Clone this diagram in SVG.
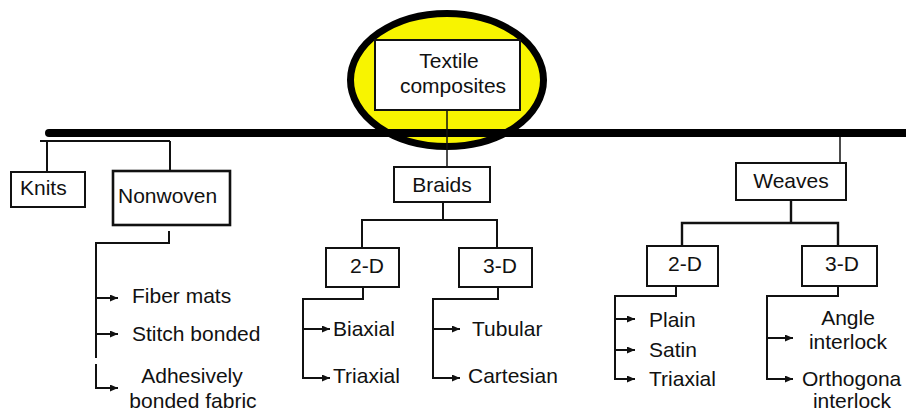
<svg xmlns="http://www.w3.org/2000/svg" width="906" height="412" viewBox="0 0 906 412">
<style>
  .box{fill:#fff;stroke:#111;stroke-width:2}
  .bold{stroke-width:2.6}
  .t{font-family:"Liberation Sans",Arial,sans-serif;font-size:21px;fill:#111}
  .m{text-anchor:middle}
  .c{fill:none;stroke:#111;stroke-width:2}
  .thin{stroke-width:1.5}
</style>
<defs>
  <marker id="ah" markerUnits="userSpaceOnUse" markerWidth="9" markerHeight="8" refX="8" refY="3.5" orient="auto">
    <path d="M0,0 L8,3.5 L0,7 z" fill="#111"/>
  </marker>
</defs>
<rect width="906" height="412" fill="#fff"/>

<g id="root">
  <ellipse cx="447" cy="80" rx="96.5" ry="66.5" fill="#f8f400" stroke="#000" stroke-width="7"/>
  <rect class="box" x="375" y="40" width="145" height="70"/>
  <text class="t m" x="449" y="68">Textile</text>
  <text class="t m" x="453" y="93">composites</text>
</g>

<g id="connectors">
  <line x1="49" y1="133" x2="906" y2="133" stroke="#000" stroke-width="8" stroke-linecap="round"/>
  <!-- root to braids -->
  <line class="c thin" x1="447" y1="110" x2="447" y2="167"/>
  <!-- knits / nonwoven bracket -->
  <path class="c" d="M40,141 H170 M47,141 V172 M170,141 V171"/>
  <!-- weaves -->
  <line class="c thin" x1="840" y1="137" x2="840" y2="163"/>
  <!-- nonwoven children -->
  <path class="c" d="M169,231 V243 H96 V358"/>
  <path class="c" d="M96,364 V388"/>
  <line class="c" x1="96" y1="298" x2="118" y2="298" marker-end="url(#ah)"/>
  <line class="c" x1="96" y1="334" x2="118" y2="334" marker-end="url(#ah)"/>
  <line class="c" x1="95" y1="388" x2="118" y2="388" marker-end="url(#ah)"/>
  <!-- braids to 2-D / 3-D -->
  <path class="c" d="M443,202 V220 M362,248 V220 H497 V248"/>
  <!-- braids 2-D children -->
  <path class="c" d="M363,287 V299 H303 V378"/>
  <line class="c" x1="303" y1="329" x2="330" y2="329" marker-end="url(#ah)"/>
  <line class="c" x1="302" y1="378" x2="330" y2="378" marker-end="url(#ah)"/>
  <!-- braids 3-D children -->
  <path class="c" d="M498,287 V299 H433 V378"/>
  <line class="c" x1="433" y1="329" x2="460" y2="329" marker-end="url(#ah)"/>
  <line class="c" x1="432" y1="378" x2="460" y2="378" marker-end="url(#ah)"/>
  <!-- weaves to 2-D / 3-D -->
  <path class="c" d="M791,200 V223 M682,246 V223 H838 V246" style="stroke-width:2.4"/>
  <!-- weaves 2-D children -->
  <path class="c" d="M676,286 V296 H615 V379"/>
  <line class="c" x1="615" y1="319" x2="635" y2="319" marker-end="url(#ah)"/>
  <line class="c" x1="615" y1="350" x2="635" y2="350" marker-end="url(#ah)"/>
  <line class="c" x1="614" y1="379" x2="635" y2="379" marker-end="url(#ah)"/>
  <!-- weaves 3-D children -->
  <path class="c" d="M838,286 V296 H767 V379"/>
  <line class="c" x1="767" y1="338" x2="793" y2="338" marker-end="url(#ah)"/>
  <line class="c" x1="766" y1="379" x2="793" y2="379" marker-end="url(#ah)"/>
</g>

<g id="knits">
  <rect class="box" x="11" y="172" width="74" height="35"/>
  <text class="t" x="20" y="195">Knits</text>
</g>
<g id="nonwoven">
  <rect class="box bold" x="113" y="171" width="117" height="54"/>
  <text class="t" x="118" y="203">Nonwoven</text>
</g>
<g id="nonwoven-items">
  <text class="t" x="132" y="303">Fiber mats</text>
  <text class="t" x="132" y="341">Stitch bonded</text>
  <text class="t m" x="192" y="383">Adhesively</text>
  <text class="t m" x="193" y="408">bonded fabric</text>
</g>

<g id="braids">
  <rect class="box" x="394" y="167" width="96" height="35"/>
  <text class="t m" x="442" y="192">Braids</text>
</g>
<g id="braids-2d">
  <rect class="box" x="326" y="248" width="73" height="39"/>
  <text class="t m" x="367" y="273">2-D</text>
</g>
<g id="braids-3d">
  <rect class="box" x="459" y="248" width="73" height="39"/>
  <text class="t m" x="500" y="273">3-D</text>
</g>
<g id="braids-items">
  <text class="t" x="333" y="336">Biaxial</text>
  <text class="t" x="333" y="383">Triaxial</text>
  <text class="t" x="472" y="336">Tubular</text>
  <text class="t" x="468" y="383">Cartesian</text>
</g>

<g id="weaves">
  <rect class="box" x="736" y="163" width="110" height="37"/>
  <text class="t m" x="791" y="188">Weaves</text>
</g>
<g id="weaves-2d">
  <rect class="box" x="647" y="246" width="71" height="40"/>
  <text class="t m" x="685" y="271">2-D</text>
</g>
<g id="weaves-3d">
  <rect class="box" x="802" y="246" width="75" height="40"/>
  <text class="t m" x="842" y="271">3-D</text>
</g>
<g id="weaves-items">
  <text class="t" x="649" y="327">Plain</text>
  <text class="t" x="649" y="357">Satin</text>
  <text class="t" x="649" y="386">Triaxial</text>
  <text class="t m" x="848" y="325">Angle</text>
  <text class="t m" x="848" y="349">interlock</text>
  <text class="t" x="802" y="386">Orthogona</text>
  <text class="t m" x="852" y="408">interlock</text>
</g>
</svg>
